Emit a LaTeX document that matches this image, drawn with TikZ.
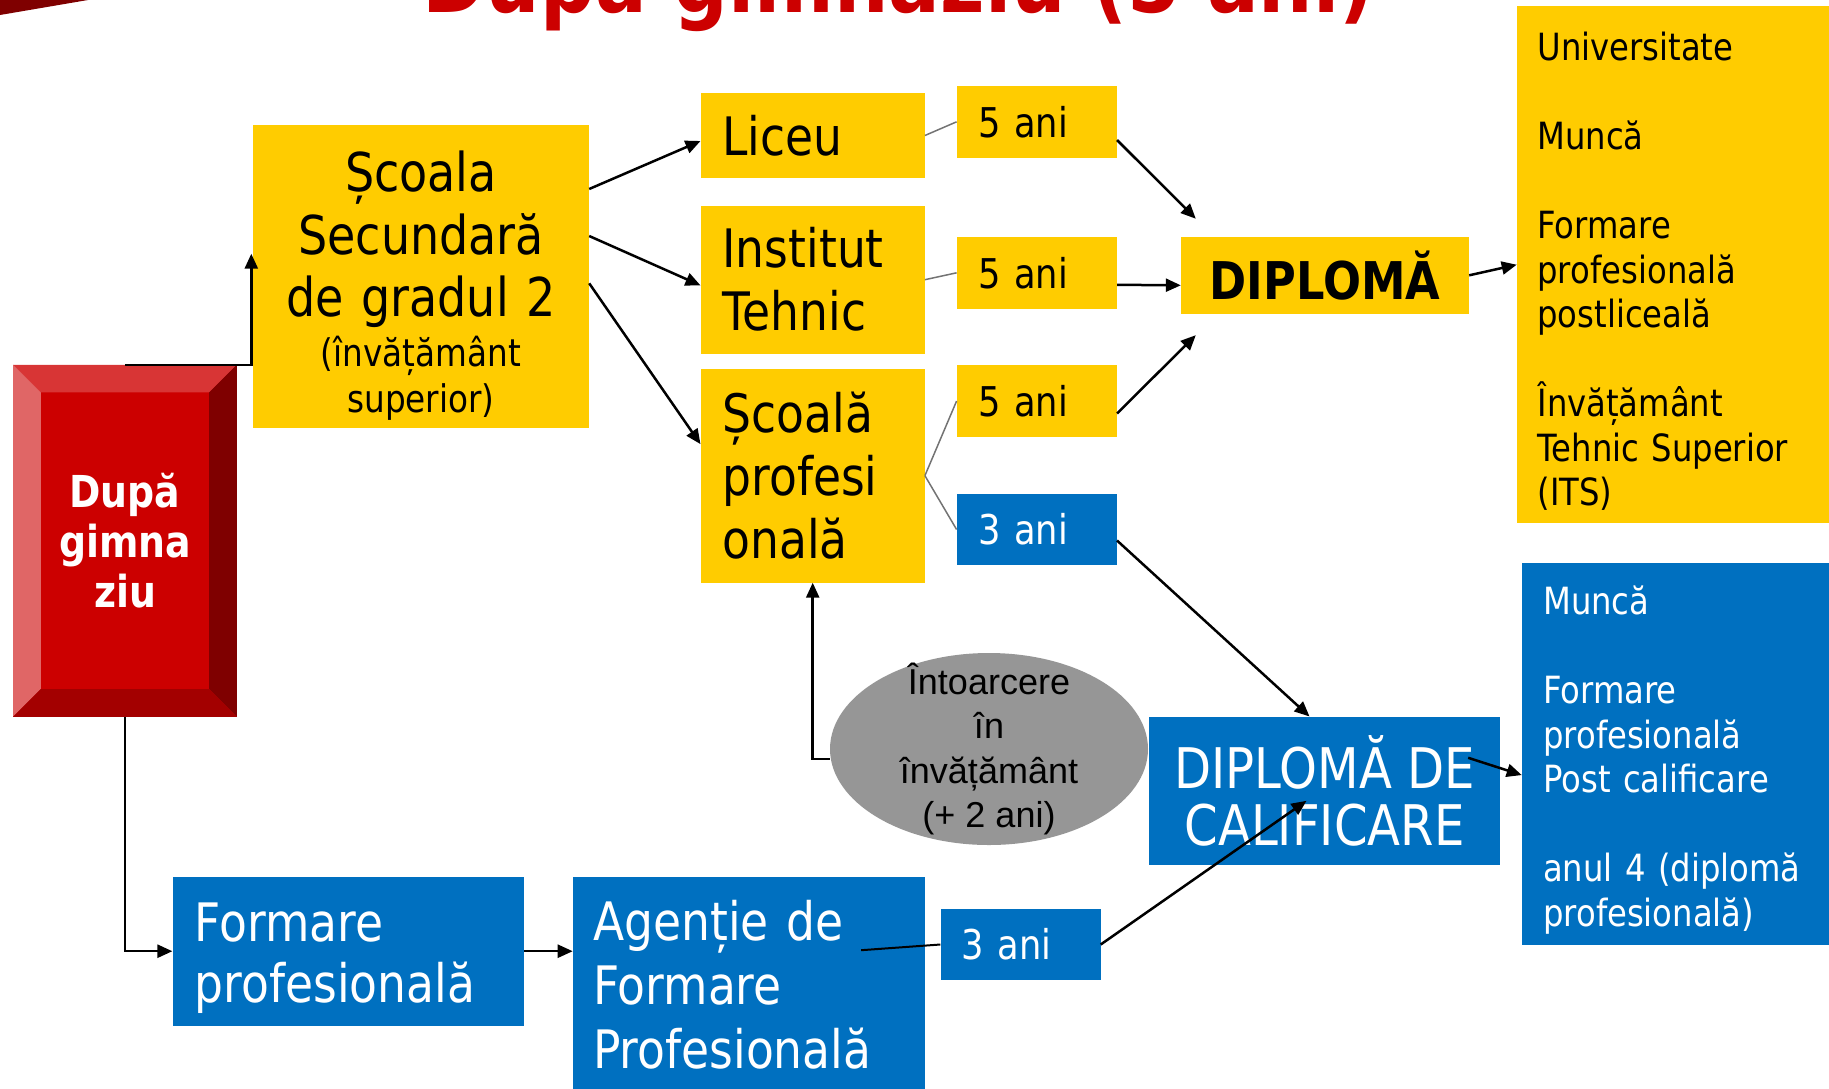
\documentclass[tikz,border=0pt]{standalone}
\usepackage{fontspec}
\setmainfont{DejaVu Sans}[FakeStretch=0.86]
\newfontfamily\arialfont{Liberation Sans}
\usepackage{xcolor}
\usepackage{tikz}
\usetikzlibrary{shapes.geometric, arrows.meta, positioning, calc}
\definecolor{slideYellow}{RGB}{255, 204, 0}
\definecolor{slideBlue}{RGB}{0, 112, 192}
\definecolor{slideRed}{RGB}{204, 0, 0}
\definecolor{slideGray}{RGB}{150, 150, 150}
\definecolor{bevelTop}{RGB}{216, 53, 53}
\definecolor{bevelLeft}{RGB}{224, 102, 102}
\definecolor{bevelRight}{RGB}{127, 0, 0}
\definecolor{bevelBottom}{RGB}{163, 0, 0}

\begin{document}
\begin{tikzpicture}[
    x=1pt, y=-1pt,
    ybox/.style={rectangle, fill=slideYellow, text=black, inner ysep=0pt},
    bbox/.style={rectangle, fill=slideBlue, text=white, inner ysep=0pt},
    school/.style={ybox, minimum width=224pt, inner xsep=21.8pt, text width=180.4pt, align=left, font=\fontsize{53}{63}\selectfont},
    years/.style={#1, minimum width=160pt, minimum height=71.5pt, inner xsep=21.4pt, text width=117.2pt, align=left, font=\fontsize{41}{49}\selectfont},
    outcome/.style={#1, anchor=north west, minimum width=320pt, inner xsep=20.6pt, text width=278.8pt, align=left, font=\fontsize{37.5}{44.5}\selectfont},
    arrow/.style={-{Triangle[length=15pt, width=13pt]}, line width=2.5pt},
    link/.style={line width=1.5pt, draw=black!55}
]
\useasboundingbox (0,0) rectangle (1829,1088);

% Title (cut by the top edge)
\fill[bevelRight] (0,0) -- (88,0) -- (0,15) -- cycle;
\node[anchor=base, text=slideRed, font=\bfseries\fontsize{89}{100}\selectfont] (title) at (898.5,12) {După gimnaziu (5 ani)};

% Start
\node[rectangle, fill=slideRed, minimum width=223.4pt, minimum height=351.7pt, text=white, align=center, font=\bfseries\fontsize{44}{50}\selectfont] (start) at (125,540.8) {După\\gimna\\ziu};
\coordinate (snw) at ($(start.north west)+(27.7,27.7)$);
\coordinate (sne) at ($(start.north east)+(-27.7,27.7)$);
\coordinate (ssw) at ($(start.south west)+(27.7,-27.7)$);
\coordinate (sse) at ($(start.south east)+(-27.7,-27.7)$);
\fill[bevelTop] (start.north west) -- (start.north east) -- (sne) -- (snw) -- cycle;
\fill[bevelLeft] (start.north west) -- (snw) -- (ssw) -- (start.south west) -- cycle;
\fill[bevelRight] (start.north east) -- (sne) -- (sse) -- (start.south east) -- cycle;
\fill[bevelBottom] (start.south west) -- (ssw) -- (sse) -- (start.south east) -- cycle;

% Secondary school
\node[ybox, minimum width=336pt, minimum height=303.3pt, inner xsep=8pt, text width=320pt, align=center, font=\fontsize{53.5}{62.5}\selectfont] (secondary) at (421,276.7) {\rule{0pt}{59pt}Școala\\Secundară\\de gradul 2\\[-12.2pt]{\fontsize{38}{42}\selectfont(învățământ}\\[-16.5pt]{\fontsize{38}{42}\selectfont superior)}};

% Schools
\node[school, minimum height=84.4pt] (liceu) at (812.7,135.5) {Liceu};
\node[school, minimum height=148pt, below=27.6pt of liceu] (institut) {Institut\\Tehnic};
\node[school, minimum height=213.7pt, below=14.7pt of institut] (scoalaprof) {Școală\\profesi\\onală};

% Durations
\node[years=ybox] (aniL) at (1036.8,121.8) {5 ani};
\node[years=ybox] (aniT) at (1036.8,272.8) {5 ani};
\node[years=ybox, below=56.3pt of aniT] (aniP) {5 ani};
\node[years=bbox, below=56.6pt of aniP] (aniC) {3 ani};

% Diplomas
\node[ybox, minimum width=288pt, minimum height=77.3pt, font=\bfseries\fontsize{52}{60}\selectfont] (diploma) at (1325,275.3) {DIPLOMĂ};
\node[bbox, minimum width=351pt, minimum height=148.3pt, align=center, font=\fontsize{56}{57}\selectfont] (calif) at (1324.5,790.8) {DIPLOMĂ DE\\CALIFICARE};

% Outcomes
\node[outcome=ybox, minimum height=517pt] (afterDipl) at (1516.7,6) {\rule{0pt}{42.5pt}Universitate\\[44.5pt]Muncă\\[44.5pt]Formare\\profesională\\postliceală\\[44.5pt]Învățământ\\Tehnic Superior\\(ITS)};
\node[outcome=bbox, minimum height=382.3pt, inner xsep=21.3pt] (afterCalif) at (1521.7,562.7) {\rule{0pt}{40.5pt}Muncă\\[44.5pt]Formare\\profesională\\Post calificare\\[44.5pt]anul 4 (diplomă\\profesională)};

% Return to school
\node[ellipse, fill=slideGray, minimum width=318pt, minimum height=192pt, inner sep=-22pt, align=center, font=\arialfont\fontsize{36}{44.4}\selectfont] (return) at (989,749) {Întoarcere\\în\\învățământ\\(+ 2 ani)};

% Vocational track
\node[bbox, minimum width=351.4pt, minimum height=149pt, inner xsep=22pt, text width=307.4pt, align=left, font=\fontsize{53}{61.3}\selectfont] (formare) at (348.3,951.2) {\rule{0pt}{52pt}Formare\\profesională};
\node[bbox, anchor=north west, minimum width=352pt, minimum height=216.6pt, inner xsep=20.3pt, text width=311.4pt, align=left, font=\fontsize{53}{64}\selectfont] (agentie) at (572.7,876.7) {Agenție de\\Formare\\Profesională};
\node[years=bbox, minimum height=71pt] (aniA) at (1020.5,944.5) {3 ani};

% Arrows
\draw[arrow] (start.north) -| ([xshift=-1.5pt, yshift=23pt]secondary.west);
\draw[arrow] (start.south) |- (formare.west);
\draw[arrow] (formare.east) -- (formare.east -| agentie.west);
\draw[arrow] ([yshift=87.7pt]secondary.east) -- ([yshift=-5.5pt]liceu.west);
\draw[arrow] ([yshift=40.7pt]secondary.east) -- ([yshift=-5.7pt]institut.west);
\draw[arrow] ([yshift=-6.6pt]secondary.east) -- ([yshift=31.5pt]scoalaprof.west);

\draw[link] (liceu.east) -- (aniL.west);
\draw[link] (institut.east) -- (aniT.west);
\draw[link] (scoalaprof.east) -- (aniP.west);
\draw[link] (scoalaprof.east) -- (aniC.west);

\draw[arrow] ([yshift=-18.2pt]aniL.east) -- ([xshift=15pt, yshift=17.7pt]diploma.north west);
\draw[arrow] ([yshift=-12pt]aniT.east) -- ([yshift=-10pt]diploma.west);
\draw[arrow] ([yshift=-12.5pt]aniP.east) -- ([xshift=15pt, yshift=-21pt]diploma.south west);
\draw[arrow] (diploma.east) -- (afterDipl.west);

\draw[arrow] ([yshift=-11pt]aniC.east) -- ([xshift=-15pt]calif.north);
\draw[arrow] (aniA.east) -- ([xshift=-18pt, yshift=-10pt]calif.center);
\draw[arrow] ([xshift=-32pt, yshift=33pt]calif.east) -- ([yshift=-21pt]afterCalif.west);
\draw[arrow] ([yshift=-10pt]return.west) -| (scoalaprof.south);
\draw[line width=2pt] ([xshift=-64pt, yshift=35pt]agentie.east) -- (aniA.west);

\end{tikzpicture}
\end{document}
